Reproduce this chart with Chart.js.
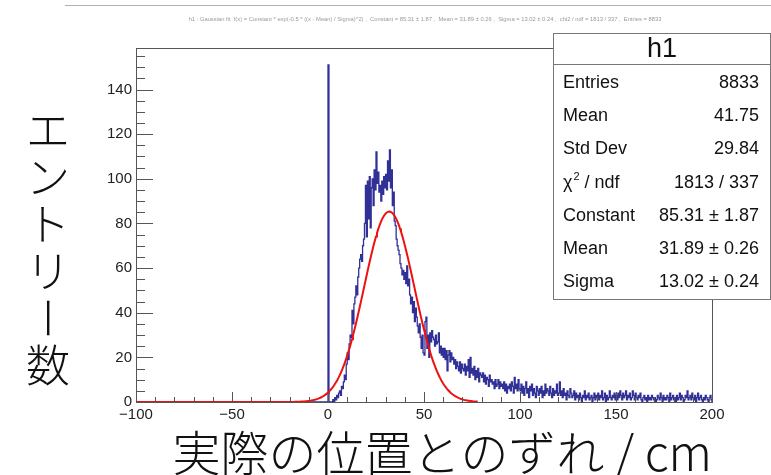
<!DOCTYPE html>
<html>
<head>
<meta charset="utf-8">
<script src="https://cdn.jsdelivr.net/npm/chart.js@4.4.1/dist/chart.umd.min.js"></script>
<style>
  html, body { margin: 0; padding: 0; background: #ffffff; }
  #wrap { width: 771px; height: 475px; position: relative; }
</style>
</head>
<body>
<div id="wrap"><canvas id="c" width="771" height="475"></canvas></div>
<script>
// ---- histogram h1: 0.5-wide bins, contents starting at x = 0 ----
const binStart = 0;
const binWidth = 0.5;
const axisMin = -100;
const axisMax = 200;
const counts = [
  // 0 .. 10
  151, 0, 0, 0, 0, 1, 0, 2, 1, 3, 2, 4, 5, 3, 7, 6, 9, 12, 10, 17,
  // 10 .. 20
  22, 19, 26, 30, 29, 41, 35, 44, 47, 52, 48, 56, 60, 64, 66, 63, 70, 73, 80, 97,
  // 20 .. 30
  74, 99, 82, 101, 78, 96, 100, 88, 104, 95, 112, 98, 103, 94, 97, 90, 99, 93, 101, 96,
  // 30 .. 40
  102, 95, 108, 99, 113, 96, 104, 88, 94, 81, 79, 73, 70, 68, 66, 62, 60, 57, 59, 55,
  // 40 .. 50
  58, 53, 61, 52, 55, 48, 44, 47, 40, 45, 36, 42, 38, 34, 31, 35, 29, 24, 30, 22,
  // 50 .. 60
  21, 36, 38, 24, 30, 20, 31, 27, 32, 29, 28, 25, 30, 26, 27, 31, 22, 25, 21, 24,
  // 60 .. 70
  20, 24, 19, 23, 14, 21, 23, 18, 22, 19, 20, 17, 19, 15, 18, 16, 14, 18, 13, 17,
  // 70 .. 80
  15, 14, 17, 12, 16, 14, 19, 11, 20, 13, 15, 12, 16, 10, 14, 11, 15, 9, 13, 12,
  // 80 .. 90
  11, 13, 9, 12, 8, 11, 10, 7, 12, 9, 10, 8, 9, 6, 10, 7, 8, 10, 6, 9,
  // 90 .. 100
  7, 8, 6, 9, 5, 8, 4, 7, 6, 8, 5, 9, 7, 4, 11, 6, 8, 5, 10, 6,
  // 100 .. 110
  5, 8, 4, 7, 3, 6, 9, 4, 6, 2, 7, 5, 8, 3, 6, 4, 2, 7, 5, 3,
  // 110 .. 120
  6, 4, 7, 2, 5, 3, 8, 4, 6, 5, 3, 7, 4, 2, 6, 3, 5, 4, 8, 3,
  // 120 .. 130
  4, 9, 3, 5, 2, 6, 3, 4, 1, 5, 3, 2, 6, 4, 2, 3, 5, 1, 4, 2,
  // 130 .. 140
  3, 1, 4, 2, 0, 3, 2, 5, 1, 3, 2, 4, 1, 2, 3, 0, 2, 4, 1, 3,
  // 140 .. 150
  2, 4, 1, 3, 2, 5, 1, 2, 4, 0, 3, 1, 2, 5, 2, 1, 3, 2, 4, 1,
  // 150 .. 160
  3, 1, 4, 2, 5, 3, 1, 4, 2, 3, 5, 1, 3, 2, 4, 1, 2, 5, 3, 1,
  // 160 .. 170
  4, 2, 1, 3, 2, 4, 1, 0, 2, 3, 1, 2, 0, 3, 1, 2, 1, 3, 2, 1,
  // 170 .. 180
  2, 0, 1, 3, 2, 1, 4, 2, 0, 3, 1, 2, 1, 3, 2, 0, 4, 1, 2, 3,
  // 180 .. 190
  1, 2, 0, 3, 1, 2, 4, 1, 3, 2, 0, 1, 3, 2, 5, 1, 2, 3, 1, 4,
  // 190 .. 200
  2, 1, 3, 0, 2, 4, 1, 2, 3, 1, 0, 2, 1, 3, 2, 1, 0, 2, 3, 1
];

// ---- gaussian fit result ----
const fitConstant = 85.31;
const fitMean = 31.89;
const fitSigma = 13.02;
const fitFrom = -100;
const fitTo = 78;

// ---- axis ticks ----
const xTickStep = 50;
const xMinorStep = 10;
const yTickStep = 20;
const yMinorStep = 5;
const yMax = 158.6;

// ---- statistics box ----
const statsTitle = 'h1';
const statsLabels = ['Entries', 'Mean', 'Std Dev', 'CHI2', 'Constant', 'Mean', 'Sigma'];
const statsValues = ['8833', '41.75', '29.84', '1813 / 337', '85.31 \u00b1 1.87', '31.89 \u00b1 0.26', '13.02 \u00b1 0.24'];

// ---- texts ----
const yTitleChars = ['エ', 'ン', 'ト', 'リ', 'ー', '数'];
const xTitle = '実際の位置とのずれ / cm';
const topCaption = 'h1 : Gaussian fit  f(x) = Constant * exp(-0.5 * ((x - Mean) / Sigma)^2) ,  Constant = 85.31 \u00b1 1.87 ,  Mean = 31.89 \u00b1 0.26 ,  Sigma = 13.02 \u00b1 0.24 ,  chi2 / ndf = 1813 / 337 ,  Entries = 8833';

// histogram outline points: one point per bin left edge (stepped)
const histPoints = [{ x: axisMin, y: 0 }];
counts.forEach((v, i) => histPoints.push({ x: binStart + i * binWidth, y: v }));
histPoints.push({ x: axisMax, y: 0 });

// fit curve sampled from the fitted parameters
const fitPoints = [];
for (let x = fitFrom; x <= fitTo + 1e-9; x += 0.5) {
  const z = (x - fitMean) / fitSigma;
  fitPoints.push({ x: x, y: fitConstant * Math.exp(-0.5 * z * z) });
}

const LABEL_FONT = '"Liberation Sans", Arial, Helvetica, sans-serif';
const CJK_FONT = '"Noto Sans CJK JP", "Noto Sans CJK SC", sans-serif';

const frameAndDecor = {
  id: 'frameAndDecor',
  afterDatasetsDraw(chart) {
    const ctx = chart.ctx;
    const xs = chart.scales.x, ys = chart.scales.y;
    const a = chart.chartArea;
    ctx.save();
    // frame
    ctx.strokeStyle = '#555';
    ctx.lineWidth = 1;
    ctx.strokeRect(Math.round(a.left) + 0.5, Math.round(a.top) + 0.5,
                   Math.round(a.right - a.left), Math.round(a.bottom - a.top));
    // x ticks (inside, upward)
    ctx.beginPath();
    for (let v = axisMin; v <= axisMax + 1e-9; v += xMinorStep) {
      const px = Math.round(xs.getPixelForValue(v)) + 0.5;
      const len = (Math.abs(v % xTickStep) < 1e-9) ? 10 : 5;
      ctx.moveTo(px, a.bottom);
      ctx.lineTo(px, a.bottom - len);
    }
    // y ticks (inside, rightward)
    for (let v = 0; v <= yMax + 1e-9; v += yMinorStep) {
      const py = Math.round(ys.getPixelForValue(v)) + 0.5;
      const len = (Math.abs(v % yTickStep) < 1e-9) ? 17 : 9;
      ctx.moveTo(a.left, py);
      ctx.lineTo(a.left + len, py);
    }
    ctx.stroke();
    ctx.restore();
  },
  afterDraw(chart) {
    const ctx = chart.ctx;
    ctx.save();

    // thin rule and small caption at the top
    ctx.strokeStyle = '#b0b0b0';
    ctx.lineWidth = 1;
    ctx.beginPath();
    ctx.moveTo(65, 5.5);
    ctx.lineTo(771, 5.5);
    ctx.stroke();
    ctx.fillStyle = '#9a9a9a';
    ctx.font = '5.8px ' + LABEL_FONT;
    ctx.textAlign = 'center';
    ctx.textBaseline = 'middle';
    ctx.fillText(topCaption, 425, 19);

    // statistics box
    const bx = 553.5, by = 33.5, bw = 217, bh = 266;
    ctx.fillStyle = '#ffffff';
    ctx.fillRect(bx, by, bw, bh);
    ctx.strokeStyle = '#777';
    ctx.lineWidth = 1;
    ctx.strokeRect(bx, by, bw, bh);
    ctx.beginPath();
    ctx.moveTo(bx, 64.5);
    ctx.lineTo(bx + bw, 64.5);
    ctx.stroke();

    ctx.fillStyle = '#111';
    ctx.textBaseline = 'middle';
    ctx.textAlign = 'center';
    ctx.font = '27px ' + LABEL_FONT;
    ctx.fillText(statsTitle, bx + bw / 2, 50);

    const rowY0 = 83, rowStep = 33.2;
    ctx.font = '18px ' + LABEL_FONT;
    statsLabels.forEach((lab, i) => {
      const y = rowY0 + i * rowStep;
      ctx.textAlign = 'left';
      if (lab === 'CHI2') {
        ctx.font = '18px ' + LABEL_FONT;
        ctx.fillText('\u03c7', 563, y);
        const w1 = ctx.measureText('\u03c7').width;
        ctx.font = '11px ' + LABEL_FONT;
        ctx.fillText('2', 563 + w1 + 1, y - 6);
        const w2 = ctx.measureText('2').width;
        ctx.font = '18px ' + LABEL_FONT;
        ctx.fillText(' / ndf', 563 + w1 + 1 + w2, y);
      } else {
        ctx.fillText(lab, 563, y);
      }
      ctx.textAlign = 'right';
      ctx.fillText(statsValues[i], 759, y);
    });

    // y axis title, written vertically with upright characters
    ctx.fillStyle = '#111';
    ctx.font = '300 44px ' + CJK_FONT;
    ctx.textAlign = 'center';
    ctx.textBaseline = 'middle';
    yTitleChars.forEach((ch, i) => {
      const y = 130 + i * 47;
      if (ch === 'ー') {
        ctx.save();
        ctx.translate(48, y);
        ctx.rotate(Math.PI / 2);
        ctx.fillText(ch, 0, 0);
        ctx.restore();
      } else {
        ctx.fillText(ch, 48, y);
      }
    });

    // x axis title
    ctx.font = '300 48px ' + CJK_FONT;
    ctx.textAlign = 'right';
    ctx.textBaseline = 'middle';
    ctx.fillText(xTitle, 712, 453);

    ctx.restore();
  }
};

new Chart(document.getElementById('c'), {
  type: 'line',
  data: {
    datasets: [
      {
        label: 'fit',
        data: fitPoints,
        borderColor: '#ee1111',
        borderWidth: 2,
        pointRadius: 0,
        fill: false,
        tension: 0,
        order: 0,
        clip: 3
      },
      {
        label: 'h1',
        data: histPoints,
        borderColor: '#303096',
        borderWidth: 1.3,
        pointRadius: 0,
        fill: false,
        stepped: 'before',
        order: 1,
        clip: 3
      }
    ]
  },
  options: {
    responsive: false,
    animation: false,
    devicePixelRatio: 1,
    layout: { padding: { left: 0, right: 59, top: 48, bottom: 0 } },
    plugins: { legend: { display: false }, tooltip: { enabled: false }, title: { display: false } },
    scales: {
      x: {
        type: 'linear',
        min: axisMin,
        max: axisMax,
        grid: { display: false, drawTicks: false },
        border: { display: false },
        afterFit(s) { s.height = 73; },
        ticks: {
          stepSize: xTickStep,
          includeBounds: false,
          maxRotation: 0,
          autoSkip: false,
          padding: 4,
          color: '#222',
          font: { family: LABEL_FONT, size: 15 },
          callback: v => (v < 0 ? '\u2212' + Math.abs(v) : String(v))
        }
      },
      y: {
        type: 'linear',
        min: 0,
        max: yMax,
        grid: { display: false, drawTicks: false },
        border: { display: false },
        afterFit(s) { s.width = 136; },
        ticks: {
          stepSize: yTickStep,
          includeBounds: false,
          autoSkip: false,
          padding: 4,
          color: '#222',
          font: { family: LABEL_FONT, size: 15 },
          callback: v => String(v)
        }
      }
    }
  },
  plugins: [frameAndDecor]
});
</script>
</body>
</html>
